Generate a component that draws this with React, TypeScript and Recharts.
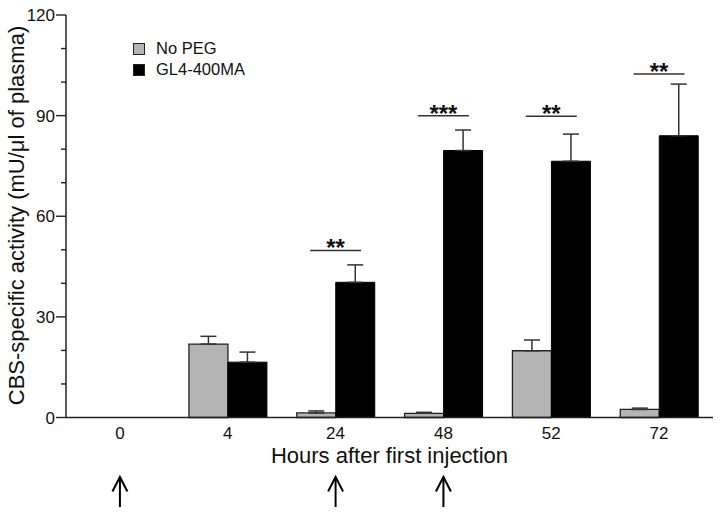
import React from 'react';
import { ComposedChart, Bar, XAxis, YAxis, ErrorBar, Scatter, Legend, Label } from 'recharts';

const hours = ['0', '4', '24', '48', '52', '72'];
const noPeg = [0, 21.9, 1.35, 1.25, 19.9, 2.4];
const noPegErr = [0, 2.3, 0.6, 0.3, 3.2, 0.4];
const gl4 = [0, 16.5, 40.3, 79.6, 76.4, 84.0];
const gl4Err = [0, 3.0, 5.2, 6.1, 8.1, 15.4];
const sigLevel = [null, null, 49.8, 90.0, 89.8, 102.4];
const sigStars = ['', '', '**', '***', '**', '**'];
const injectionHours = ['0', '24', '48'];
const yTicks = [0, 10, 20, 30, 40, 50, 60, 70, 80, 90, 100, 110, 120];
const yMajorTicks = [0, 30, 60, 90, 120];
const seriesNames = ['No PEG', 'GL4-400MA'];

const FONT = '"Liberation Sans", Arial, sans-serif';
const GRAY = '#b4b4b4';
const BLACK = '#000000';
const INK = '#222222';

const data = hours.map((h, i) => ({
  hour: h,
  noPeg: noPeg[i],
  noPegErr: [0, noPegErr[i]],
  gl4: gl4[i],
  gl4Err: [0, gl4Err[i]],
  sig: sigLevel[i],
  stars: sigStars[i],
}));

const YTick = (props: any) => {
  const { x, y, payload } = props;
  const axisX = x + 12;
  const major = yMajorTicks.includes(payload.value);
  return (
    <g>
      <line x1={axisX - (major ? 10 : 5)} x2={axisX} y1={y} y2={y} stroke={INK} strokeWidth={1.4} />
      {major && (
        <text x={x + 1} y={y + 6} textAnchor="end" fontSize={17} fill="#111" fontFamily={FONT}>
          {payload.value}
        </text>
      )}
    </g>
  );
};

const XTick = (props: any) => {
  const { x, y, payload } = props;
  const injected = injectionHours.includes(payload.value);
  return (
    <g>
      <text x={x} y={y + 21} textAnchor="middle" fontSize={17} fill="#111" fontFamily={FONT}>
        {payload.value}
      </text>
      {injected && (
        <g stroke="#000" strokeWidth={2} fill="none">
          <line x1={x} x2={x} y1={y + 60} y2={y + 89.5} />
          <polyline points={`${x - 7.5},${y + 74} ${x},${y + 59.5} ${x + 7.5},${y + 74}`} />
        </g>
      )}
    </g>
  );
};

const SigMark = (props: any) => {
  const { cx, cy, payload } = props;
  if (!payload || !payload.stars || !isFinite(cy)) return <g />;
  return (
    <g>
      <line x1={cx - 25.5} x2={cx + 25.5} y1={cy} y2={cy} stroke="#333" strokeWidth={1.5} />
      <text x={cx} y={cy + 6} textAnchor="middle" fontSize={24} fontWeight="bold" fill="#111" fontFamily={FONT}>
        {payload.stars}
      </text>
    </g>
  );
};

const LegendContent = (props: any) => {
  const items = (props.payload || [])
    .filter((p: any) => p.type !== 'none' && seriesNames.includes(p.value))
    .sort((a: any, b: any) => seriesNames.indexOf(a.value) - seriesNames.indexOf(b.value));
  return (
    <div style={{ fontFamily: FONT, fontSize: 16.5, color: '#111' }}>
      {items.map((p: any) => (
        <div key={p.value} style={{ display: 'flex', alignItems: 'center', height: 21 }}>
          <span
            style={{
              display: 'inline-block',
              width: 10,
              height: 10,
              border: `1.5px solid ${INK}`,
              background: p.color,
              marginRight: 11,
            }}
          />
          <span>{p.value}</span>
        </div>
      ))}
    </div>
  );
};

export default function App() {
  return (
    <div style={{ position: 'absolute', left: 0, top: 0, width: 721, height: 519, background: '#fff' }}>
      <ComposedChart
        width={721}
        height={519}
        data={data}
        margin={{ top: 15, right: 8, bottom: 0, left: 0 }}
        barCategoryGap="14%"
        barGap={0}
      >
        <XAxis
          dataKey="hour"
          type="category"
          height={101.5}
          tickLine={false}
          tickSize={0}
          tickMargin={0}
          axisLine={{ stroke: INK, strokeWidth: 1.5 }}
          tick={<XTick />}
          interval={0}
        >
          <Label
            content={(p: any) => {
              const vb = p.viewBox || {};
              return (
                <text
                  x={vb.x + vb.width / 2}
                  y={vb.y + 45.5}
                  textAnchor="middle"
                  fontSize={22}
                  fill="#111"
                  fontFamily={FONT}
                >
                  Hours after first injection
                </text>
              );
            }}
          />
        </XAxis>
        <YAxis
          type="number"
          domain={[0, 120]}
          ticks={yTicks}
          interval={0}
          width={66}
          tickLine={false}
          tickSize={10}
          tickMargin={2}
          axisLine={{ stroke: INK, strokeWidth: 1.5 }}
          tick={<YTick />}
        >
          <Label
            content={() => (
              <text
                x={24}
                y={215.5}
                transform="rotate(-90, 24, 215.5)"
                textAnchor="middle"
                fontSize={22}
                fill="#111"
                fontFamily={FONT}
              >
                CBS-specific activity (mU/μl of plasma)
              </text>
            )}
          />
        </YAxis>
        <Legend
          layout="horizontal"
          verticalAlign="middle"
          align="center"
          itemSorter={null as any}
          wrapperStyle={{ position: 'absolute', left: 133, top: 38, width: 'auto', height: 'auto' }}
          content={<LegendContent />}
        />
        <Bar dataKey="noPeg" name="No PEG" fill={GRAY} stroke={INK} strokeWidth={1.3} isAnimationActive={false}>
          <ErrorBar dataKey="noPegErr" width={8} stroke="#333" strokeWidth={1.5} direction="y" />
        </Bar>
        <Bar dataKey="gl4" name="GL4-400MA" fill={BLACK} stroke={BLACK} strokeWidth={1} isAnimationActive={false}>
          <ErrorBar dataKey="gl4Err" width={8} stroke="#333" strokeWidth={1.5} direction="y" />
        </Bar>
        <Scatter dataKey="sig" legendType="none" shape={<SigMark />} isAnimationActive={false} />
      </ComposedChart>
    </div>
  );
}
